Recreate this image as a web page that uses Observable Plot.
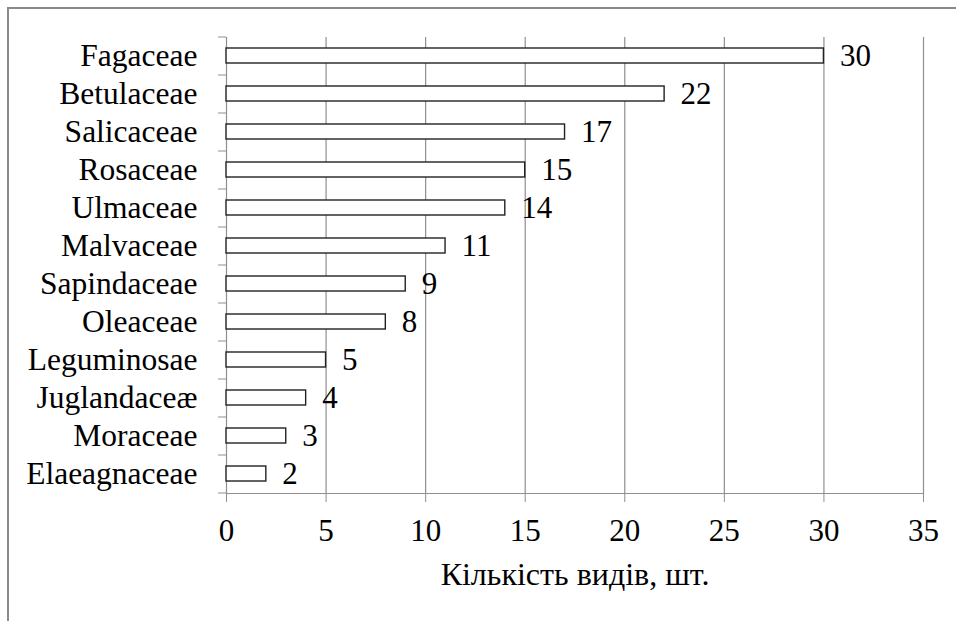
<!DOCTYPE html>
<html>
<head>
<meta charset="utf-8">
<script src="https://cdn.jsdelivr.net/npm/d3@7"></script>
<script src="https://cdn.jsdelivr.net/npm/@observablehq/plot@0.6"></script>
<style>
  html, body { margin: 0; padding: 0; background: #fff; width: 956px; height: 621px; overflow: hidden; }
  #wrap { position: relative; width: 956px; height: 621px; }
  #frame { position: absolute; left: 7px; top: 7px; width: 1000px; height: 700px;
           border-left: 2px solid #8a8a8a; border-top: 2px solid #8a8a8a; box-sizing: border-box; }
  #chart { position: absolute; left: 0; top: 0; }
</style>
</head>
<body>
<div id="wrap"><div id="frame"></div><div id="chart"></div></div>
<script>
const families = ["Fagaceae", "Betulaceae", "Salicaceae", "Rosaceae", "Ulmaceae", "Malvaceae",
                  "Sapindaceae", "Oleaceae", "Leguminosae", "Juglandaceæ", "Moraceae", "Elaeagnaceae"];
const counts = [30, 22, 17, 15, 14, 11, 9, 8, 5, 4, 3, 2];
const xTicks = [0, 5, 10, 15, 20, 25, 30, 35];
const axisTitle = "Кількість видів, шт.";

const data = families.map((f, i) => ({family: f, count: counts[i]}));
const grid = "#8f8f8f";
const ff = "Liberation Serif";

const plot = Plot.plot({
  width: 956,
  height: 621,
  marginLeft: 226,
  marginRight: 33,
  marginTop: 37,
  marginBottom: 128,
  style: {background: "transparent", fontFamily: ff},
  x: {domain: [0, 35], ticks: xTicks},
  y: {domain: families, paddingInner: 0.6, paddingOuter: 0.3},
  marks: [
    Plot.ruleX(xTicks.slice(1), {stroke: grid, strokeWidth: 1.2}),
    Plot.ruleX([0], {stroke: grid, strokeWidth: 1.2}),
    Plot.axisX({ticks: xTicks, tickSize: 9, tickPadding: 16, stroke: grid, fontSize: 31, fontFamily: ff, fill: "#000", label: null, tickFormat: d => String(d)}),
    Plot.frame({anchor: "bottom", stroke: grid, strokeWidth: 1.2}),
    Plot.axisY({tickSize: 0, tickPadding: 29, fontSize: 31.5, fontFamily: ff, fill: "#000", label: null}),
    Plot.axisY({ticks: families, tickSize: 8, dy: 19, stroke: grid, text: null, label: null}),
    Plot.axisY({ticks: [families[0]], tickSize: 8, dy: -19, stroke: grid, text: null, label: null}),
    Plot.barX(data, {x: "count", y: "family", fill: "#fff", stroke: "#222", strokeWidth: 1.4}),
    Plot.text(data, {x: "count", y: "family", text: d => String(d.count), dx: 16, textAnchor: "start", fontSize: 31, fontFamily: ff, fill: "#000"}),
    Plot.text([axisTitle], {frameAnchor: "bottom", dy: 91, fontSize: 32, fontFamily: ff, fill: "#000"})
  ]
});
document.getElementById("chart").appendChild(plot);
</script>
</body>
</html>
